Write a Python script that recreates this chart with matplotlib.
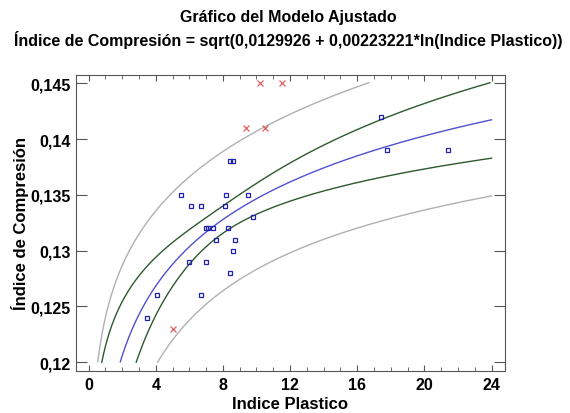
import numpy as np
import matplotlib
matplotlib.use("Agg")
import matplotlib.pyplot as plt
from matplotlib.ticker import FuncFormatter, MultipleLocator

plt.rcParams['font.family'] = ['Liberation Sans', 'DejaVu Sans']

# modelo ajustado (del titulo)
a_coef = 0.0129926
b_coef = 0.00223221

# puntos usados en el ajuste
ip = [3.5, 4.1, 5.5, 6.0, 6.1, 6.7, 6.7, 7.0, 7.0, 7.1, 7.4, 7.6, 8.1, 8.2,
      8.3, 8.4, 8.4, 8.6, 8.6, 8.7, 9.5, 9.8, 17.4, 17.8, 21.4]
ic = [0.124, 0.126, 0.135, 0.129, 0.134, 0.134, 0.126, 0.132, 0.129, 0.132,
      0.132, 0.131, 0.134, 0.135, 0.132, 0.138, 0.128, 0.138, 0.130, 0.131,
      0.135, 0.133, 0.142, 0.139, 0.139]

# puntos excluidos
ip_exc = [5.0, 9.4, 10.5, 10.2, 11.5]
ic_exc = [0.123, 0.141, 0.141, 0.145, 0.145]

xt = np.array(ip)
yt = np.array(ic)
X = np.log(xt)
Y = yt ** 2
n = len(X)
res = Y - (a_coef + b_coef * X)
s = np.sqrt(np.sum(res ** 2) / (n - 2))
t = 2.069  # t(23; 0,975)
xm = X.mean()
sxx = np.sum((X - xm) ** 2)

xg = np.linspace(0.3, 24, 2000)
Xg = np.log(xg)
Yg = a_coef + b_coef * Xg
conf = t * s * np.sqrt(1 / n + (Xg - xm) ** 2 / sxx)
pred = t * s * np.sqrt(1 + 1 / n + (Xg - xm) ** 2 / sxx)


def curva(v):
    y = np.sqrt(np.clip(v, 0, None))
    y[(y < 0.12) | (y > 0.14505)] = np.nan
    return y


fig = plt.figure(figsize=(5.7, 4.14), dpi=100)
ax = fig.add_axes([76 / 570, 1 - 372 / 414, (505 - 76) / 570, (372 - 76) / 414])

ax.plot(xg, curva(Yg + pred), color='#b0b0b0', lw=1)
ax.plot(xg, curva(Yg - pred), color='#b0b0b0', lw=1)
ax.plot(xg, curva(Yg + conf), color='#2d5a2d', lw=1)
ax.plot(xg, curva(Yg - conf), color='#2d5a2d', lw=1)
ax.plot(xg, curva(Yg), color='#5050d0', lw=1)

ax.plot(ip, ic, ls='none', marker='s', ms=3.5, mfc='none', mec='#2020b0', mew=0.9)
ax.plot(ip_exc, ic_exc, ls='none', marker='x', ms=4, color='#e06060', mew=0.9)

ax.set_xlim(-0.75, 24.8)
ax.set_ylim(0.11922, 0.14574)
ax.xaxis.set_major_locator(MultipleLocator(4))
ax.xaxis.set_minor_locator(MultipleLocator(1))
ax.yaxis.set_major_locator(MultipleLocator(0.005))
ax.yaxis.set_major_formatter(FuncFormatter(lambda v, p: f'{v:g}'.replace('.', ',')))
ax.tick_params(axis='x', which='major', direction='in', length=4, top=True, color='#555555')
ax.tick_params(axis='x', which='minor', direction='in', length=3, top=True, color='#555555')
ax.tick_params(axis='y', which='major', direction='in', length=8, right=True, color='#555555')
ax.tick_params(labelsize=11.5, pad=4)
for lab in ax.get_xticklabels() + ax.get_yticklabels():
    lab.set_fontweight('bold')
for sp in ax.spines.values():
    sp.set_color('#555555')

ax.set_xlabel('Indice Plastico', fontsize=12, fontweight='bold', labelpad=3)
ax.set_ylabel('Índice de Compresión', fontsize=12, fontweight='bold', labelpad=1)

fig.text(0.505, 0.958, 'Gráfico del Modelo Ajustado', ha='center', va='center',
         fontsize=11.5, fontweight='bold')
fig.text(0.505, 0.903, 'Índice de Compresión = sqrt(0,0129926 + 0,00223221*ln(Indice Plastico))',
         ha='center', va='center', fontsize=11.5, fontweight='bold')

fig.savefig('out.png', dpi=100)
